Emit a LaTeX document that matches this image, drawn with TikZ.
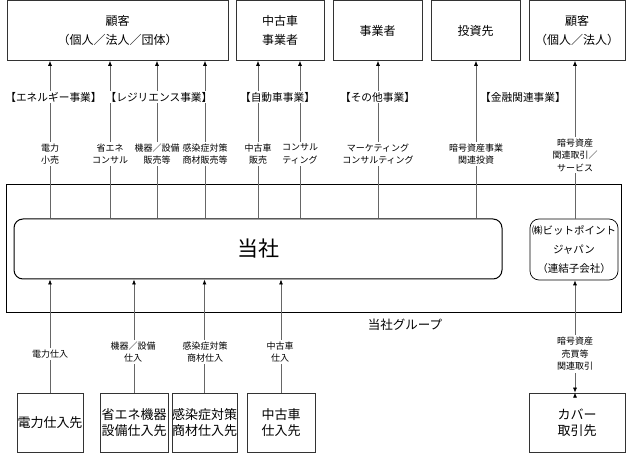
\documentclass[tikz,border=0pt]{standalone}
\usepackage{fontspec}
\setmainfont{Noto Sans CJK JP}
\usetikzlibrary{arrows.meta,positioning,calc}

\begin{document}
\begin{tikzpicture}[x=1pt,y=-1pt]
\tikzset{
    box/.style={draw=black!80,line width=0.7pt,minimum width=#1,minimum height=60pt,
      inner sep=0pt,align=center,font=\fontsize{12}{19}\selectfont},
    company/.style={draw=black,line width=1pt,rounded corners=9pt,inner sep=0pt,align=center},
    supplier/.style={draw=black!80,line width=0.7pt,minimum width=#1,minimum height=59pt,
      inner sep=0pt,align=center,font=\fontsize{13}{16}\selectfont},
    arrow/.style={draw=black!60,line width=0.7pt,->,>={Latex[length=5pt,width=4pt,black]}},
    tag/.style={fill=white,inner sep=1pt,font=\fontsize{10.7}{12}\selectfont},
    note/.style={fill=white,inner sep=2pt,align=center,font=\fontsize{9}{12.5}\selectfont}
}
\useasboundingbox (0,0) rectangle (627,454);
% customers
\node[box=221pt] (kokyakuA) at (117.5,30.5) {顧客\\（個人／法人／団体）};
\node[box=88pt] (chukosha) at (280,30.5) {中古車\\事業者};
\node[box=89pt] (jigyosha) at (377.5,30.5) {事業者};
\node[box=89pt] (toshisaki) at (475.5,30.5) {投資先};
\node[box=96pt] (kokyakuB) at (577,30.5) {顧客\\（個人／法人）};
% group
\node[draw,line width=1pt,minimum width=615pt,minimum height=128pt] (group) at (313.5,249) {};
\node[company,minimum width=488pt,minimum height=60pt,font=\fontsize{21}{24}\selectfont] (tosha) at (258,249) {当社};
\node[company,line width=0.7pt,minimum width=88pt,minimum height=61pt,font=\fontsize{10.5}{19}\selectfont] (bitpoint) at (574,249.5) {㈱ビットポイント\\ジャパン\\（連結子会社）};
\node[font=\fontsize{12.5}{15}\selectfont] (grouplabel) at (405,325) {当社グループ};
% suppliers
\node[supplier=66pt] (s1) at (50,422.5) {電力仕入先};
\node[supplier=68pt] (s2) at (134,422.5) {省エネ機器\\設備仕入先};
\node[supplier=65pt] (s3) at (204.5,422.5) {感染症対策\\商材仕入先};
\node[supplier=68pt] (s4) at (281,422.5) {中古車\\仕入先};
\node[supplier=96pt] (cover) at (577,422.5) {カバー\\取引先};
% line positions
\coordinate (c1) at (50,0);
\coordinate (c2) at (110,0);
\coordinate (c3) at (157,0);
\coordinate (c4) at (205,0);
\coordinate (c5) at (258,0);
\coordinate (c6) at (300,0);
\coordinate (c7) at (378,0);
\coordinate (c8) at (476,0);
\coordinate (c9) at (575,0);
% edges
\path[arrow]
(c1 |- tosha.north) edge (c1 |- kokyakuA.south)
(c2 |- tosha.north) edge (c2 |- kokyakuA.south)
(c3 |- tosha.north) edge (c3 |- kokyakuA.south)
(c4 |- tosha.north) edge (c4 |- kokyakuA.south)
(c5 |- tosha.north) edge (c5 |- chukosha.south)
(c6 |- tosha.north) edge (c6 |- chukosha.south)
(c7 |- tosha.north) edge (c7 |- jigyosha.south)
(c8 |- tosha.north) edge (c8 |- toshisaki.south)
(c9 |- bitpoint.north) edge (c9 |- kokyakuB.south)
(s1.north) edge (s1.north |- tosha.south)
(s2.north) edge (s2.north |- tosha.south)
(s3.north) edge (s3.north |- tosha.south)
(s4.north) edge (s4.north |- tosha.south)
(c9 |- cover.north) edge[<->] (c9 |- bitpoint.south)
;
% business labels
\node[tag] (t1) at (53.5,97) {【エネルギー事業】};
\node[tag] (t2) at (159,97) {【レジリエンス事業】};
\node[tag] (t3) at (277.5,97) {【自動車事業】};
\node[tag] (t4) at (377.5,97) {【その他事業】};
\node[tag] (t5) at (523,97) {【金融関連事業】};
% flow labels
\node[note] (n1) at (50,154) {電力\\小売};
\node[note] (n2) at (110,154) {省エネ\\コンサル};
\node[note] (n3) at (157,154) {機器／設備\\販売等};
\node[note] (n4) at (205,154) {感染症対策\\商材販売等};
\node[note] (n5) at (258,154) {中古車\\販売};
\node[note] (n6) at (300,154) {コンサル\\ティング};
\node[note] (n7) at (378,154) {マーケティング\\コンサルティング};
\node[note] (n8) at (476,154) {暗号資産事業\\関連投資};
\node[note] (n9) at (575,155) {暗号資産\\関連取引／\\サービス};
\node[note] (m1) at (50,354) {電力仕入};
\node[note] (m2) at (133,352) {機器／設備\\仕入};
\node[note] (m3) at (205,352) {感染症対策\\商材仕入};
\node[note] (m4) at (280,352) {中古車\\仕入};
\node[note] (m5) at (575,354) {暗号資産\\売買等\\関連取引};
\end{tikzpicture}
\end{document}
